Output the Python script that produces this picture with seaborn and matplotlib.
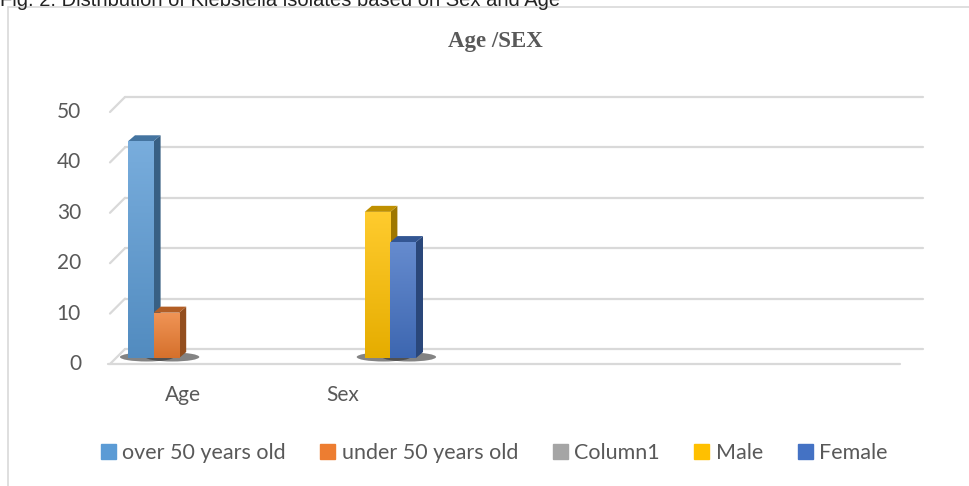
import numpy as np
import pandas as pd
import matplotlib.pyplot as plt
import seaborn as sns
from matplotlib.patches import Polygon, Rectangle, Ellipse
from matplotlib.lines import Line2D
from matplotlib.transforms import IdentityTransform
from matplotlib.colors import to_rgb

# data
categories = ['Age', 'Sex', 'c3', 'c4', 'c5']
category_labels = ['Age', 'Sex', '', '', '']
series = ['over 50 years old', 'under 50 years old', 'Column1', 'Male', 'Female']
over_50 = [43, 0, 0, 0, 0]
under_50 = [9, 0, 0, 0, 0]
column1 = [0, 0, 0, 0, 0]
male = [0, 29, 0, 0, 0]
female = [0, 23, 0, 0, 0]
yticks = [0, 10, 20, 30, 40, 50]
colors = ['#5B9BD5', '#ED7D31', '#A5A5A5', '#FFC000', '#4472C4']

df = pd.DataFrame({
    'category': categories * 5,
    'series': np.repeat(series, len(categories)),
    'value': over_50 + under_50 + column1 + male + female,
})

sns.set_theme(style='white')
plt.rcParams['font.family'] = ['Lato', 'DejaVu Sans']
txt = '#595959'
grid = '#D9D9D9'

fig = plt.figure(figsize=(9.69, 4.86), dpi=100)
ax = fig.add_axes([110 / 969, 128 / 486, 798 / 969, 252 / 486])
sns.barplot(data=df, x='category', y='value', hue='series', order=categories,
            hue_order=series, palette=colors, saturation=1, width=0.8,
            legend=False, ax=ax, zorder=2, linewidth=0)
ax.set_xlim(-0.5125, 4.475)
ax.set_ylim(0, 50)
ax.axis('off')

# 3d look: depth of walls and bars in pixels
wall_dx, wall_dy = 15, 15
front_dy = -6
bar_dx, bar_dy = 7, 6
to_px = ax.transData.transform
ident = IdentityTransform()

L = to_px((ax.get_xlim()[0], 0))[0]
R = to_px((ax.get_xlim()[1], 0))[0]
for v in yticks:
    yf = to_px((0, v))[1] + front_dy
    yb = yf + wall_dy
    ax.add_line(Line2D([L + wall_dx, R + wall_dx], [yb, yb], color=grid, lw=1.6,
                       transform=ident, clip_on=False, zorder=0.5))
    ax.add_line(Line2D([L, L + wall_dx], [yf, yb], color=grid, lw=1.6,
                       transform=ident, clip_on=False, zorder=0.5))
    ax.text(81, yf, str(v), transform=ident, ha='right', va='center',
            fontsize=15, color=txt)
yf0 = to_px((0, 0))[1] + front_dy
ax.add_line(Line2D([L - 2, R - 8], [yf0, yf0], color=grid, lw=1.6,
                   transform=ident, clip_on=False, zorder=0.5))

for i, lab in enumerate(category_labels):
    x = to_px((i, 0))[0] - 9
    ax.text(x, yf0 - 31, lab, transform=ident, ha='center', va='center',
            fontsize=15, color=txt)

grad = np.linspace(0, 1, 64)[:, None]
for p in list(ax.patches):
    h = p.get_height()
    if h <= 0:
        continue
    x0, x1 = p.get_x(), p.get_x() + p.get_width()
    (px0, py0), (px1, py1) = to_px((x0, 0)), to_px((x1, h))
    c = np.array(to_rgb(p.get_facecolor()))
    # soft gradient on the front face, lighter at the top
    top_c = c + (1 - c) * 0.18
    bot_c = c * 0.9
    img = (bot_c[None, None, :] * (1 - grad[:, :, None]) + top_c[None, None, :] * grad[:, :, None])
    im = ax.imshow(img, extent=(x0, x1, 0, h), origin='lower', aspect='auto',
                   zorder=2.1, interpolation='bilinear')
    im.set_clip_path(p)
    ax.add_patch(Ellipse(((px0 + px1) / 2 + 6, py0 + 1), (px1 - px0) * 2.1, 9,
                         color='#303030', alpha=0.6, lw=0, transform=ident,
                         clip_on=False, zorder=1))
    side = [(px1, py0), (px1 + bar_dx, py0 + bar_dy), (px1 + bar_dx, py1 + bar_dy), (px1, py1)]
    top = [(px0, py1), (px1, py1), (px1 + bar_dx, py1 + bar_dy), (px0 + bar_dx, py1 + bar_dy)]
    ax.add_patch(Polygon(side, closed=True, color=c * 0.62, lw=0, transform=ident,
                         clip_on=False, zorder=2))
    ax.add_patch(Polygon(top, closed=True, color=c * 0.75, lw=0, transform=ident,
                         clip_on=False, zorder=2))
ax.set_xlim(-0.5125, 4.475)
ax.set_ylim(0, 50)

handles = [Rectangle((0, 0), 1, 1, color=c) for c in colors]
fig.legend(handles, series, loc='center', bbox_to_anchor=(0.51, 1 - 453 / 486),
           ncol=5, frameon=False, handlelength=0.7, handleheight=0.7,
           handletextpad=0.3, columnspacing=1.6, fontsize=15.5, labelcolor=txt)

fig.text(495 / 969, 1 - 42 / 486, 'Age /SEX', family='Liberation Serif',
         weight='bold', fontsize=16.5, color=txt, ha='center', va='center')
fig.text(0, 1 - 6 / 486, 'Fig. 2: Distribution of Klebsiella isolates based on Sex and Age',
         family='Liberation Sans', fontsize=14.5, color='#222222', va='baseline')

fig.add_artist(Line2D([8 / 969, 8 / 969], [0, 1 - 7 / 486], color=grid, lw=1.2))
fig.add_artist(Line2D([8 / 969, 1], [1 - 7 / 486, 1 - 7 / 486], color=grid, lw=1.2))

fig.savefig('out.png', dpi=100)
